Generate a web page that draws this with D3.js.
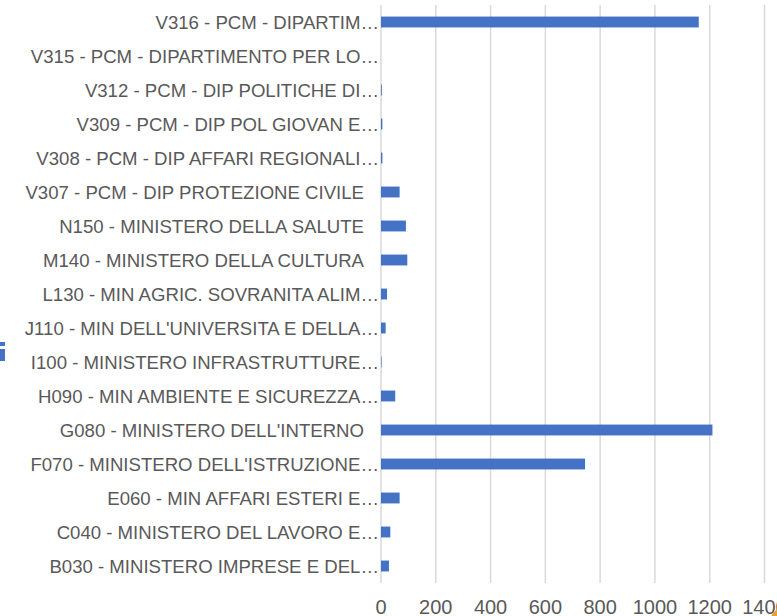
<!DOCTYPE html>
<html>
<head>
<meta charset="utf-8">
<script src="https://cdn.jsdelivr.net/npm/d3@7"></script>
<style>
  html, body { margin: 0; padding: 0; background: #fff; overflow: hidden; }
  svg { display: block; }
</style>
</head>
<body>
<svg id="chart" width="777" height="616"></svg>
<script>
// categories, top to bottom as shown
var categories = [
  "V316 - PCM - DIPARTIM…",
  "V315 - PCM - DIPARTIMENTO PER LO…",
  "V312 - PCM - DIP POLITICHE DI…",
  "V309 - PCM - DIP POL GIOVAN E…",
  "V308 - PCM - DIP AFFARI REGIONALI…",
  "V307 - PCM - DIP PROTEZIONE CIVILE",
  "N150 - MINISTERO DELLA SALUTE",
  "M140 - MINISTERO DELLA CULTURA",
  "L130 - MIN AGRIC. SOVRANITA ALIM…",
  "J110 - MIN DELL'UNIVERSITA E DELLA…",
  "I100 - MINISTERO INFRASTRUTTURE…",
  "H090 - MIN AMBIENTE E SICUREZZA…",
  "G080 - MINISTERO DELL'INTERNO",
  "F070 - MINISTERO DELL'ISTRUZIONE…",
  "E060 - MIN AFFARI ESTERI E…",
  "C040 - MINISTERO DEL LAVORO E…",
  "B030 - MINISTERO IMPRESE E DEL…"
];
var values = [1160, 0, 3, 5, 5, 68, 91, 96, 22, 17, 2, 52, 1210, 745, 68, 34, 29];
var xTicks = [0, 200, 400, 600, 800, 1000, 1200, 1400];

function drawChart() {
  var svg = d3.select("#chart");
  var pLeft = 381, pRight = 764.5, pTop = 5, pBottom = 583;

  var x = d3.scaleLinear().domain([0, 1400]).range([pLeft, pRight]);
  var y = d3.scaleBand().domain(categories).range([pTop, pBottom])
    .paddingInner(0.68).paddingOuter(0.34);

  // vertical gridlines
  svg.append("g").selectAll("line").data(xTicks).enter().append("line")
    .attr("x1", function (d) { return x(d); })
    .attr("x2", function (d) { return x(d); })
    .attr("y1", pTop).attr("y2", pBottom)
    .attr("stroke", "#d9d9d9").attr("stroke-width", 1.5);

  // bars
  svg.append("g").selectAll("rect").data(values).enter().append("rect")
    .attr("x", x(0))
    .attr("y", function (d, i) { return y(categories[i]); })
    .attr("width", function (d) { return x(d) - x(0); })
    .attr("height", y.bandwidth())
    .attr("fill", "#4472c4");

  // category labels
  svg.append("g").selectAll("text").data(categories).enter().append("text")
    .attr("x", function (d) { return d.slice(-1) === "…" ? 379 : 364; })
    .attr("y", function (d) { return y(d) + y.bandwidth() / 2; })
    .attr("dy", "0.35em")
    .attr("text-anchor", "end")
    .attr("font-family", "Liberation Sans, Arial, sans-serif")
    .attr("font-size", 18.6)
    .attr("fill", "#595959")
    .text(function (d) { return d; });

  // x axis tick labels
  svg.append("g").selectAll("text").data(xTicks).enter().append("text")
    .attr("x", function (d) { return x(d); })
    .attr("y", 614)
    .attr("text-anchor", "middle")
    .attr("font-family", "Liberation Sans, Arial, sans-serif")
    .attr("font-size", 20)
    .attr("fill", "#595959")
    .text(function (d) { return d; });

  // cut-off legend fragments at the edges
  svg.append("rect").attr("x", 0).attr("y", 342).attr("width", 5).attr("height", 4).attr("fill", "#4472c4");
  svg.append("rect").attr("x", 0).attr("y", 349).attr("width", 5).attr("height", 12).attr("fill", "#4472c4");
  svg.append("circle").attr("cx", 781).attr("cy", 619).attr("r", 10).attr("fill", "#e8a22e");
}

drawChart();
</script>
</body>
</html>
